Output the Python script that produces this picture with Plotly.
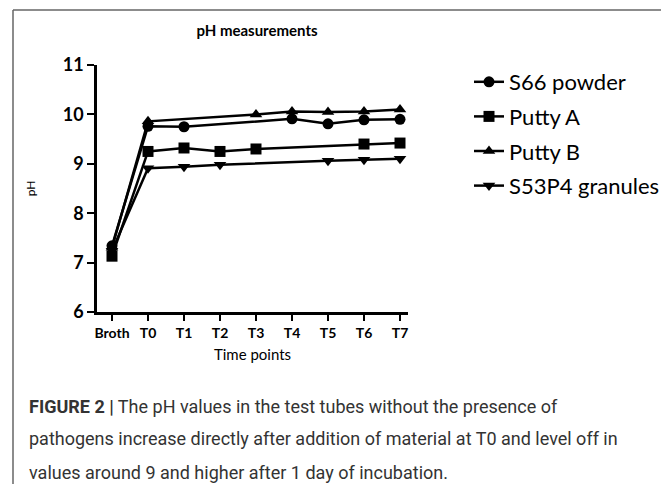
import plotly.graph_objects as go

categories = ["Broth", "T0", "T1", "T2", "T3", "T4", "T5", "T6", "T7"]
s66_powder = [7.34, 9.76, 9.75, None, None, 9.91, 9.81, 9.89, 9.90]
putty_a = [7.13, 9.25, 9.32, 9.25, 9.30, None, None, 9.40, 9.42]
putty_b = [7.30, 9.86, None, None, 10.00, 10.06, 10.05, 10.06, 10.10]
s53p4_granules = [7.24, 8.91, 8.94, 8.98, None, None, 9.06, 9.08, 9.10]

series = [
    ("S66 powder", s66_powder, "circle"),
    ("Putty A", putty_a, "square"),
    ("Putty B", putty_b, "triangle-up"),
    ("S53P4 granules", s53p4_granules, "triangle-down"),
]

SANS = "Lato, Open Sans, sans-serif"

fig = go.Figure()
for name, vals, sym in series:
    fig.add_trace(go.Scatter(
        x=categories, y=vals, name=name, mode="lines+markers",
        connectgaps=True, legendgroup=name,
        line=dict(color="black", width=2.5),
        marker=dict(symbol=sym, size=11, color="black"),
    ))

# page body has an 8px margin; work in screen pixels and compensate
OFF = 8
SW, SH = 669, 484
L, R, T, B = 97, 408, 65, 312
W, H = SW - OFF, SH - OFF
pw, ph = R - L, B - T

def px(x):
    return (x - L) / pw

def py(y):
    return (B - y) / ph

fig.update_layout(
    width=W, height=H,
    margin=dict(l=L - OFF, r=SW - R, t=T - OFF, b=SH - B, autoexpand=False),
    plot_bgcolor="white", paper_bgcolor="white",
    showlegend=True,
    legend=dict(x=px(469), y=py(61), xanchor="left", yanchor="top",
                font=dict(family=SANS, size=22, color="black"),
                bgcolor="rgba(0,0,0,0)", tracegroupgap=3),
    title=dict(text="pH measurements", x=px(257), xref="paper", xanchor="center",
               y=1 - (31 - OFF) / H, yanchor="middle",
               font=dict(family=SANS, size=15, color="black", weight="bold")),
)

fig.update_xaxes(
    type="category", range=[-(112 - L) / 36, 8 + (R - 400) / 36],
    showline=True, linecolor="black", linewidth=2.5,
    ticks="outside", ticklen=6, tickwidth=2, tickcolor="black",
    showgrid=False, zeroline=False,
    tickfont=dict(family=SANS, size=14, color="black", weight="bold"),
    title=dict(text="Time points", font=dict(family=SANS, size=15, color="black"), standoff=10),
)
fig.update_yaxes(
    range=[6, 11], dtick=1,
    showline=True, linecolor="black", linewidth=2.5,
    ticks="outside", ticklen=7, tickwidth=2, tickcolor="black",
    showgrid=False, zeroline=False,
    tickfont=dict(family=SANS, size=18, color="black", weight="bold"),
    title=dict(text="pH", font=dict(family=SANS, size=12, color="black"), standoff=25),
)

# figure frame (separate edges so each stays inside the drawn page)
frame = dict(color="#666", width=1.5)
fx0, fx1, fy0, fy1 = px(13), px(663), py(490), py(10)
fig.add_shape(type="line", xref="paper", yref="paper", x0=fx0, x1=fx1, y0=fy1, y1=fy1, line=frame)
fig.add_shape(type="line", xref="paper", yref="paper", x0=fx0, x1=fx0, y0=fy0, y1=fy1, line=frame)
fig.add_shape(type="line", xref="paper", yref="paper", x0=fx1, x1=fx1, y0=fy0, y1=fy1, line=frame)

CAP = "Roboto, Arial, sans-serif"
caption_lines = [
    "<b>FIGURE 2 |</b> The pH values in the test tubes without the presence of",
    "pathogens increase directly after addition of material at T0 and level off in",
    "values around 9 and higher after 1 day of incubation.",
]
for i, txt in enumerate(caption_lines):
    fig.add_annotation(text=txt, xref="paper", yref="paper",
                       x=px(27), y=py(406 + i * 33), xanchor="left", yanchor="middle",
                       showarrow=False, font=dict(family=CAP, size=18, color="#333"))

fig.write_html("out.html")
